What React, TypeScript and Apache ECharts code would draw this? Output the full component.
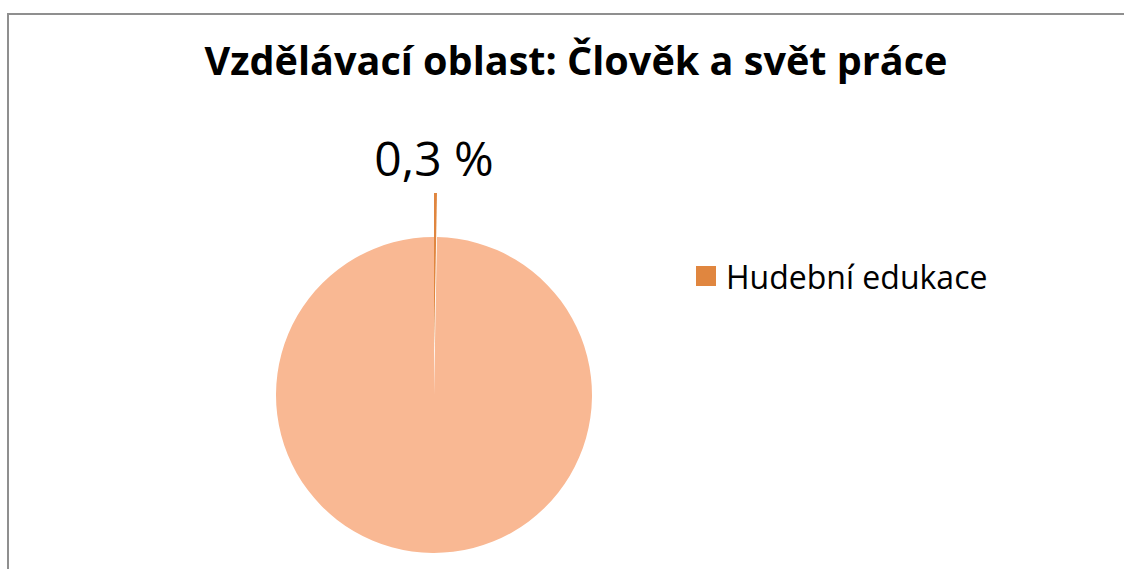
import React, { useEffect, useRef } from "react";
import * as echarts from "echarts";

const titleText = "Vzdělávací oblast: Člověk a svět práce";
const categories = ["Hudební edukace", "Ostatní"];
const values = [0.3, 99.7];
const colors = ["#E0863F", "#F9B893"];
const legendItems = ["Hudební edukace"];

const PIE_CX = 434;
const PIE_CY = 395;
const PIE_R = 158;
const EXPLODE = 44;

export default function App() {
  const ref = useRef<HTMLDivElement>(null);
  useEffect(() => {
    if (!ref.current) return;
    const chart = echarts.init(ref.current, null, { renderer: "svg" });
    const fmt = (p: any) => String(p.value).replace(".", ",") + " %";
    chart.setOption({
      animation: false,
      backgroundColor: "#ffffff",
      title: {
        text: titleText,
        left: 571,
        top: 35,
        textAlign: "center",
        textStyle: {
          fontFamily: "Open Sans",
          fontWeight: "bold",
          fontSize: 39.6,
          color: "#000000",
        },
      },
      legend: {
        data: legendItems,
        left: 691,
        top: 251,
        icon: "rect",
        itemWidth: 20,
        itemHeight: 20,
        selectedMode: false,
        textStyle: {
          fontFamily: "Open Sans",
          fontSize: 32,
          color: "#000000",
          lineHeight: 40,
          padding: [0, 0, 0, 5],
        },
      },
      graphic: [
        {
          type: "line",
          shape: { x1: 8, y1: 569, x2: 8, y2: 13 },
          style: { stroke: "#8f8f8f", lineWidth: 2 },
        },
        {
          type: "line",
          shape: { x1: 8, y1: 14, x2: 1124, y2: 14 },
          style: { stroke: "#8f8f8f", lineWidth: 2 },
        },
      ],
      series: [
        {
          // exploded small slice (drawn on its own, shifted outward)
          type: "pie",
          center: [PIE_CX, PIE_CY - EXPLODE],
          radius: PIE_R,
          startAngle: 90,
          clockwise: true,
          silent: true,
          emphasis: { disabled: true },
          itemStyle: { borderWidth: 0 },
          labelLine: { show: false, length: 0, length2: 0 },
          labelLayout: { x: 434, y: 157, align: "center", verticalAlign: "middle" },
          data: categories.map((name, i) => ({
            name,
            value: values[i],
            itemStyle: i === 0 ? { color: colors[0] } : { color: "rgba(0,0,0,0)" },
            label: {
              show: i === 0,
              position: "outside",
              formatter: fmt,
              fontFamily: "Open Sans",
              fontSize: 48,
              color: "#000000",
            },
          })),
        },
        {
          // rest of the pie
          type: "pie",
          center: [PIE_CX, PIE_CY],
          radius: PIE_R,
          startAngle: 90,
          clockwise: true,
          silent: true,
          emphasis: { disabled: true },
          itemStyle: { borderWidth: 0 },
          label: { show: false },
          labelLine: { show: false },
          data: categories.map((name, i) => ({
            name,
            value: values[i],
            itemStyle: i === 0 ? { color: "rgba(0,0,0,0)" } : { color: colors[1] },
          })),
        },
      ],
    });
    return () => chart.dispose();
  }, []);
  return (
    <div
      ref={ref}
      style={{ position: "fixed", left: 0, top: 0, width: 1124, height: 569 }}
    />
  );
}
